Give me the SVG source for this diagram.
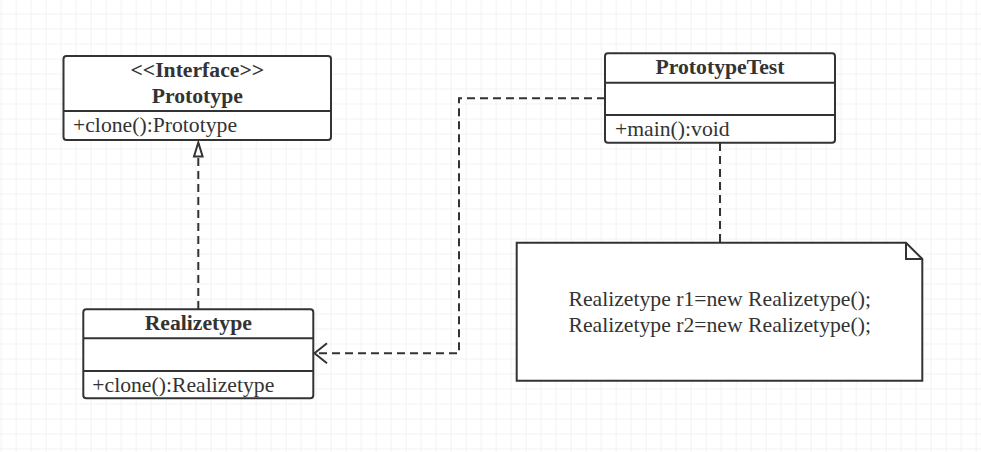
<svg xmlns="http://www.w3.org/2000/svg" width="981" height="452" viewBox="0 0 981 452">
<defs>
<pattern id="grid" x="0.7" y="13.5" width="15" height="15" patternUnits="userSpaceOnUse">
<path d="M0 0H15M0 0V15" fill="none" stroke="#e8e8e8" stroke-width="1"/>
</pattern>
</defs>
<style>
.box{fill:#fff;stroke:#333;stroke-width:2}
.div{stroke:#333;stroke-width:2}
.t{font-family:"Liberation Serif","Times New Roman",serif;font-size:21.7px;fill:#333}
.b{font-weight:bold}
.c{text-anchor:middle}
.dash{fill:none;stroke:#333;stroke-width:2;stroke-dasharray:8 5}
.head{stroke:#333;stroke-width:2}
</style>
<rect width="981" height="452" fill="#fff"/>
<rect width="981" height="452" fill="url(#grid)"/>
<g id="connectors">
<path class="dash" d="M198.3 309V157"/>
<path class="head" d="M198.3 142.5L194 156.5H202.6Z" fill="#fff"/>
<path class="dash" d="M605 98.3H459V353.3H316"/>
<path class="head" d="M327 343.3L314.5 353.3L327 363.3" fill="none"/>
<path class="dash" d="M720 143V266"/>
</g>
<g id="prototype">
<rect class="box" x="63.5" y="56" width="267.5" height="84" rx="3"/>
<line class="div" x1="63.5" y1="111" x2="331" y2="111"/>
<text class="t b c" x="197.3" y="76.7">&lt;&lt;Interface&gt;&gt;</text>
<text class="t b c" x="197.3" y="103">Prototype</text>
<text class="t" x="73" y="131.7">+clone():Prototype</text>
</g>
<g id="prototypeTest">
<rect class="box" x="605" y="53.3" width="230" height="89.4" rx="3"/>
<line class="div" x1="605" y1="82.7" x2="835" y2="82.7"/>
<line class="div" x1="605" y1="115" x2="835" y2="115"/>
<text class="t b c" x="720" y="74.3">PrototypeTest</text>
<text class="t" x="615" y="136">+main():void</text>
</g>
<g id="realizetype">
<rect class="box" x="83.3" y="309.3" width="230" height="89" rx="3"/>
<line class="div" x1="83.3" y1="338.3" x2="313.3" y2="338.3"/>
<line class="div" x1="83.3" y1="371" x2="313.3" y2="371"/>
<text class="t b c" x="198.3" y="330">Realizetype</text>
<text class="t" x="92.3" y="391.7">+clone():Realizetype</text>
</g>
<g id="note">
<path class="box" d="M516.7 242.7H906L922.3 259V380.7H516.7Z"/>
<path d="M906 242.7V259H922.3" fill="none" stroke="#333" stroke-width="2"/>
<text class="t c" x="719.7" y="306">Realizetype r1=new Realizetype();</text>
<text class="t c" x="719.7" y="331.7">Realizetype r2=new Realizetype();</text>
</g>
</svg>
